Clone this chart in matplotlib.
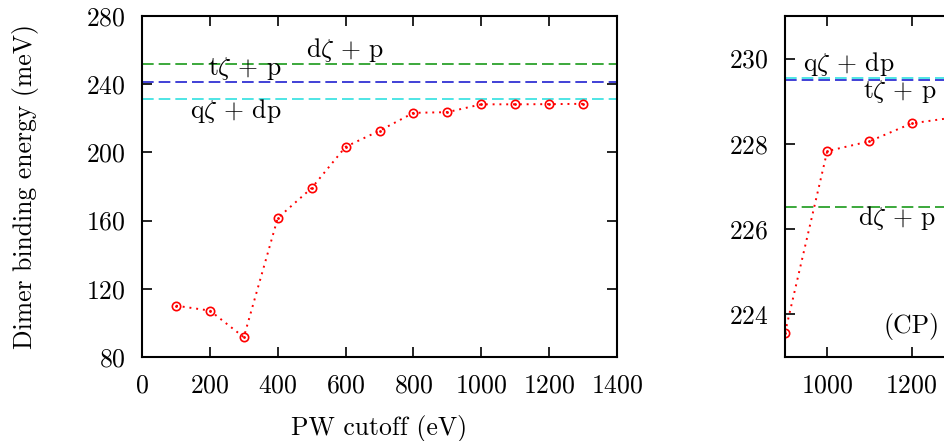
import numpy as np
import matplotlib
matplotlib.use('Agg')
import matplotlib.pyplot as plt

plt.rcParams['font.family'] = 'serif'
plt.rcParams['font.serif'] = ['cmr10']
plt.rcParams['mathtext.fontset'] = 'cm'
plt.rcParams['axes.formatter.use_mathtext'] = True

# left panel: raw binding energy vs cutoff
cutoff = [100, 200, 300, 400, 500, 600, 700, 800, 900, 1000, 1100, 1200, 1300]
energy = [110.1, 107.2, 91.6, 161.5, 179.1, 203.3, 212.7, 223.2, 223.6, 228.2, 228.2, 228.3, 228.5]
ref_left = {'dz_p': 251.6, 'tz_p': 241.3, 'qz_dp': 231.2}

# right panel: counterpoise corrected
cutoff_cp = [900, 1000, 1100, 1200, 1300]
energy_cp = [223.57, 227.83, 228.06, 228.48, 228.62]
ref_cp = {'dz_p': 226.52, 'tz_p': 229.49, 'qz_dp': 229.54}

colors = {'dz_p': '#1a9a1a', 'tz_p': '#2020d0', 'qz_dp': '#30e0e0'}
FS = 18.5

fig = plt.figure(figsize=(9.45, 4.41), dpi=100)
ax1 = fig.add_axes([0.1503, 0.1905, 0.5026, 0.7732])
ax2 = fig.add_axes([0.8307, 0.1905, 0.2233, 0.7732])

for ax, refs in ((ax1, ref_left), (ax2, ref_cp)):
    for key in ('dz_p', 'tz_p', 'qz_dp'):
        ax.axhline(refs[key], color=colors[key], ls=(0, (7, 3)), lw=1.2)

for ax, xs, ys in ((ax1, cutoff, energy), (ax2, cutoff_cp, energy_cp)):
    ax.plot(xs, ys, ls=(0, (1, 2.5)), color='red', lw=1.4, marker='o', ms=6,
            mfc='none', mec='red', mew=1.2)
    ax.plot(xs, ys, ls='none', marker='.', ms=2, color='red')

ax1.set_xlim(0, 1400)
ax1.set_ylim(80, 280)
ax1.set_xticks(np.arange(0, 1401, 200))
ax1.set_yticks(np.arange(80, 281, 40))
ax1.set_xlabel('PW cutoff (eV)', fontsize=FS, labelpad=13)
ax1.set_ylabel('Dimer binding energy (meV)', fontsize=FS, labelpad=34)

ax1.text(598, 256.1, r'd$\zeta$ + p', fontsize=FS, ha='center', va='baseline')
ax1.text(304, 245.4, r't$\zeta$ + p', fontsize=FS, ha='center', va='baseline')
ax1.text(277, 220.0, r'q$\zeta$ + dp', fontsize=FS, ha='center', va='baseline')

ax2.set_xlim(900, 1400)
ax2.set_ylim(223, 231)
ax2.set_xticks([1000, 1200])
ax2.set_yticks([224, 226, 228, 230])
ax2.text(1051, 229.70, r'q$\zeta$ + dp', fontsize=FS, ha='center', va='baseline')
ax2.text(1171, 229.08, r't$\zeta$ + p', fontsize=FS, ha='center', va='baseline')
ax2.text(1166, 226.10, r'd$\zeta$ + p', fontsize=FS, ha='center', va='baseline')
ax2.text(1199, 223.71, '(CP)', fontsize=FS, ha='center', va='center')

for ax in (ax1, ax2):
    ax.tick_params(direction='in', length=7, width=1.2, top=True, right=True,
                   labelsize=FS, pad=12)
    for s in ax.spines.values():
        s.set_linewidth(1.5)

fig.savefig('out.png', dpi=100)
